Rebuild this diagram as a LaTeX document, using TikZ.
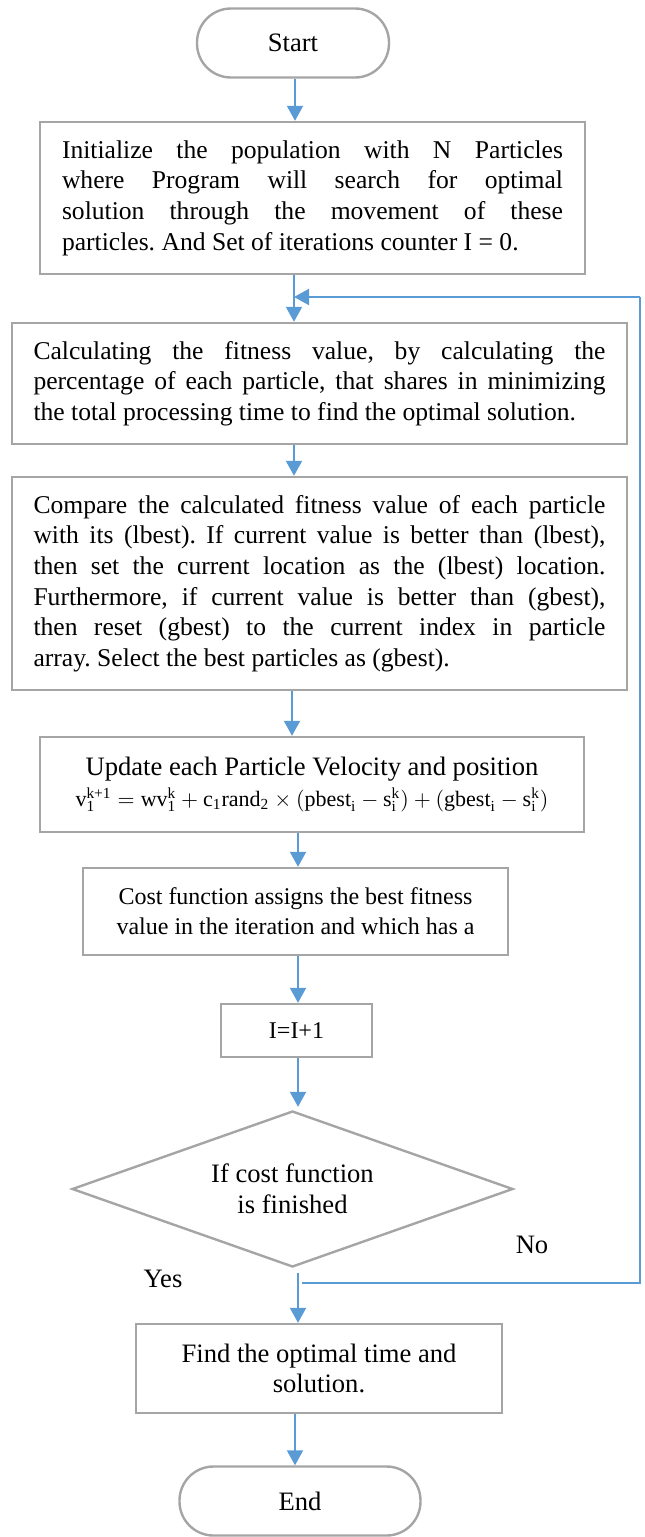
\documentclass[tikz,border=0pt]{standalone}
\usepackage{fontspec}
\usepackage{amsmath}
\usepackage{tikz}
\usepackage{xcolor}
\usetikzlibrary{calc,arrows.meta,positioning,shapes.geometric}
\setmainfont{Liberation Serif}
\definecolor{boxgray}{HTML}{A5A5A5}
\definecolor{flowblue}{HTML}{5B9BD5}
\hbadness=10000
\tolerance=9999
\frenchspacing
\newcommand{\tx}[1]{\text{#1}}

\tikzset{
  basefont/.style={font=\fontsize{13.3}{15.3}\selectfont},
  parafont/.style={font=\fontsize{12.8}{15.3}\selectfont},
  smallfont/.style={font=\fontsize{12}{15}\selectfont},
  procbox/.style={basefont, draw=boxgray, line width=1.2pt, inner sep=0pt, align=center},
  textbox/.style={procbox, parafont, align=justify},
  terminal/.style={procbox, rounded corners=17pt, minimum height=34.5pt},
  decision/.style={procbox, diamond, aspect=2.83, minimum width=220.5pt, minimum height=78pt},
  flowarrow/.style={draw=flowblue, line width=1pt, -{Triangle[width=8pt,length=7.5pt]}},
  loopline/.style={draw=flowblue, line width=0.6pt},
  branchlabel/.style={basefont, anchor=base, inner sep=0pt}
}

\begin{document}
\begin{tikzpicture}[x=0.5pt, y=-0.5pt]
  \useasboundingbox (0,0) rectangle (644,1537);

  % boxes of the flow
  \node[terminal, minimum width=96pt] (start) at (293,43) {Start};
  \node[textbox, text width=250.5pt, minimum width=272.5pt, minimum height=76pt] (init) at (312.5,198)
    {Initialize the population with N Particles\linebreak
     where Program will search for optimal\linebreak
     solution through the movement of these\linebreak
     \mbox{particles. And Set of iterations counter I = 0.}};
  \node[textbox, text width=286pt, minimum width=307.5pt, minimum height=60.5pt] (fit) at (319.5,383.5)
    {Calculating the fitness value, by calculating the\linebreak
     percentage of each particle, that shares in minimizing\linebreak
     the total processing time to find the optimal solution.};
  \node[textbox, text width=286pt, minimum width=307.5pt, minimum height=106.5pt] (cmp) at (319.5,583.5)
    {Compare the calculated fitness value of each particle\linebreak
     with its (lbest). If current value is better than (lbest),\linebreak
     then set the current location as the (lbest) location.\linebreak
     Furthermore, if current value is better than (gbest),\linebreak
     then reset (gbest) to the current index in particle\linebreak
     \mbox{array. Select the best particles as (gbest).}};
  \node[procbox, minimum width=272pt, minimum height=47.5pt] (upd) at (312,784.5)
    {Update each Particle Velocity and position\\
     {\fontsize{11}{13}\selectfont
      $\tx{v}_{\tx{1}}^{\tx{k+1}} = \tx{wv}_{\tx{1}}^{\tx{k}} + \tx{c}_{\tx{1}}\tx{rand}_{\tx{2}} \times (\tx{pbest}_{\tx{i}} - \tx{s}_{\tx{i}}^{\tx{k}}) + (\tx{gbest}_{\tx{i}} - \tx{s}_{\tx{i}}^{\tx{k}})$}};
  \node[procbox, smallfont, minimum width=212.5pt, minimum height=43.5pt] (cost) at (295.5,911.5)
    {Cost function assigns the best fitness\\ value in the iteration and which has a};
  \node[procbox, smallfont, minimum width=75.5pt, minimum height=26.5pt] (inc) at (296.5,1030.5) {I=I+1};
  \node[decision] (dec) at (292.5,1189) {If cost function\\ is finished};
  \node[procbox, minimum width=183pt, minimum height=44.5pt] (find) at (319,1368.5)
    {Find the optimal time and\\ solution.};
  \node[terminal, minimum width=120.5pt] (end) at (300,1501) {End};

  % branch labels
  \node[branchlabel] (yes) at (163,1287) {Yes};
  \node[branchlabel] (no) at (532,1253) {No};

  % connector columns and loop points
  \coordinate (colstart) at (295,0);
  \coordinate (colmid) at (292,0);
  \coordinate (loopin) at (294,297);
  \coordinate (decout) at (298,1273);
  \coordinate (loopstart) at (302,1283);
  \coordinate (loopcorner) at (640,1283);

  \draw[flowarrow] (start.south -| colstart) -- (init.north -| colstart);
  \draw[flowarrow] (init.south -| loopin) -- (fit.north -| loopin);
  \draw[flowarrow] (fit.south -| loopin) -- (cmp.north -| loopin);
  \draw[flowarrow] (cmp.south -| colmid) -- (upd.north -| colmid);
  \draw[flowarrow] (upd.south -| decout) -- (cost.north -| decout);
  \draw[flowarrow] (cost.south -| decout) -- (inc.north -| decout);
  \draw[flowarrow] (inc.south -| decout) -- ($(dec.north -| decout)+(0,-3)$);
  \draw[flowarrow] (decout) -- (find.north -| decout);
  \draw[flowarrow] (find.south -| colstart) -- (end.north -| colstart);

  % loop back on No
  \draw[loopline] (loopstart) -- (loopcorner) -- (loopcorner |- loopin);
  \draw[flowarrow] (loopcorner |- loopin) -- (loopin);
\end{tikzpicture}
\end{document}
